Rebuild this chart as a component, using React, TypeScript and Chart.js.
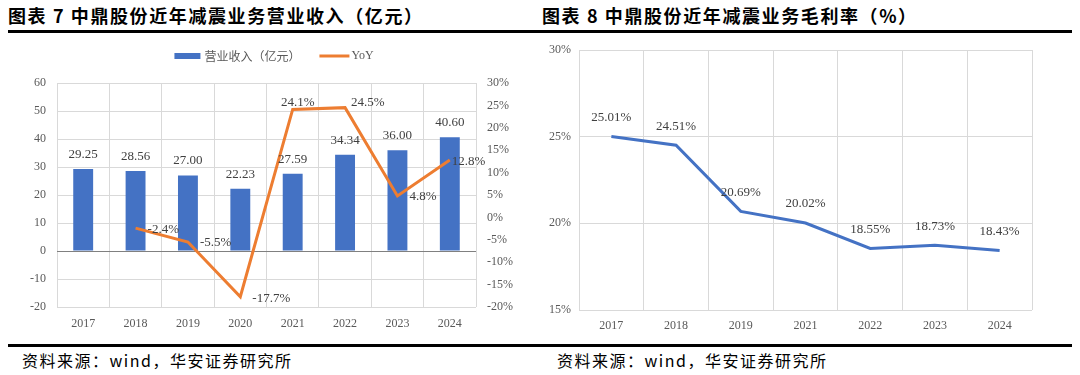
import React, { useEffect, useRef } from 'react';
import { Chart, registerables } from 'chart.js';

Chart.register(...registerables);

// ---- Data: Figure 7 (revenue + YoY) ----
const revenueYears = ['2017', '2018', '2019', '2020', '2021', '2022', '2023', '2024'];
const revenueValues = [29.25, 28.56, 27.0, 22.23, 27.59, 34.34, 36.0, 40.6];
const revenueYoY = [null, -2.4, -5.5, -17.7, 24.1, 24.5, 4.8, 12.8];
const revenueAxis = { min: -20, max: 60, step: 10 };
const yoyAxis = { min: -20, max: 30, step: 5 };
const revenueLabel = '营业收入（亿元）';
const yoyLabel = 'YoY';

// ---- Data: Figure 8 (gross margin) ----
const marginYears = ['2017', '2018', '2019', '2021', '2022', '2023', '2024'];
const marginValues = [25.01, 24.51, 20.69, 20.02, 18.55, 18.73, 18.43];
const marginAxis = { min: 15, max: 30, step: 5 };

// ---- Styles ----
const BLUE = '#4472C4';
const ORANGE = '#ED7D31';
const GRID = '#d9d9d9';
const TICK = '#595959';
const LABEL = '#404040';
const CLEAR = 'rgba(0,0,0,0)';
const SERIF = '"Liberation Serif", "DejaVu Serif", serif';
const CJK = '"Noto Sans CJK SC", "Noto Sans", sans-serif';

// placement of YoY labels relative to their point
const yoyPlacement: Record<number, { align: CanvasTextAlign; dx: number; dy: number }> = {
  1: { align: 'left', dx: 12, dy: 1 },
  2: { align: 'left', dx: 12, dy: 1 },
  3: { align: 'left', dx: 12, dy: 2 },
  4: { align: 'center', dx: 5, dy: -7 },
  5: { align: 'left', dx: 6, dy: -5 },
  6: { align: 'left', dx: 12, dy: 1 },
  7: { align: 'left', dx: 2, dy: 2 },
};

function makeLabelPlugin(
  specs: Record<number, { format: (v: number) => string; place: (i: number) => { align: CanvasTextAlign; dx: number; dy: number } }>
) {
  return {
    id: 'valueLabels',
    afterDatasetsDraw(chart: any) {
      const ctx = chart.ctx as CanvasRenderingContext2D;
      chart.data.datasets.forEach((ds: any, di: number) => {
        const spec = specs[di];
        if (!spec) return;
        const meta = chart.getDatasetMeta(di);
        meta.data.forEach((el: any, i: number) => {
          const v = ds.data[i];
          if (v === null || v === undefined) return;
          const p = spec.place(i);
          ctx.save();
          ctx.font = `13px ${SERIF}`;
          ctx.fillStyle = LABEL;
          ctx.textAlign = p.align;
          ctx.textBaseline = 'middle';
          ctx.fillText(spec.format(v), el.x + p.dx, el.y + p.dy);
          ctx.restore();
        });
      });
    },
  };
}

const legendPlugin = {
  id: 'topLegend',
  afterDraw(chart: any) {
    const ctx = chart.ctx as CanvasRenderingContext2D;
    const ds = chart.data.datasets;
    const y = 16;
    ctx.save();
    ctx.textBaseline = 'middle';
    ctx.font = `12px ${CJK}`;
    const w0 = ctx.measureText(ds[0].label).width;
    ctx.font = `12px ${SERIF}`;
    const w1 = ctx.measureText(ds[1].label).width;
    const total = 26 + 4 + w0 + 19 + 30 + 2 + w1;
    let x = chart.width / 2 - total / 2;
    ctx.fillStyle = ds[0].backgroundColor;
    ctx.fillRect(x, y - 3, 26, 6);
    x += 30;
    ctx.fillStyle = TICK;
    ctx.font = `12px ${CJK}`;
    ctx.textAlign = 'left';
    ctx.fillText(ds[0].label, x, y);
    x += w0 + 19;
    ctx.strokeStyle = ds[1].borderColor;
    ctx.lineWidth = 3;
    ctx.beginPath();
    ctx.moveTo(x, y);
    ctx.lineTo(x + 30, y);
    ctx.stroke();
    x += 32;
    ctx.font = `12px ${SERIF}`;
    ctx.fillText(ds[1].label, x, y);
    ctx.restore();
  },
};

const tickFont = { family: SERIF, size: 12 };

function RevenueChart() {
  const ref = useRef<HTMLCanvasElement>(null);
  useEffect(() => {
    if (!ref.current) return;
    const chart = new Chart(ref.current, {
      type: 'bar',
      data: {
        labels: revenueYears,
        datasets: [
          {
            type: 'bar',
            label: revenueLabel,
            data: revenueValues,
            backgroundColor: BLUE,
            barPercentage: 0.38,
            categoryPercentage: 1,
            yAxisID: 'y',
            order: 1,
          },
          {
            type: 'line',
            label: yoyLabel,
            data: revenueYoY as any,
            borderColor: ORANGE,
            backgroundColor: ORANGE,
            borderWidth: 3,
            pointRadius: 0,
            tension: 0,
            yAxisID: 'y1',
            order: 0,
          },
        ],
      },
      options: {
        responsive: false,
        animation: false,
        devicePixelRatio: 1,
        layout: { padding: { top: 43, left: 0, right: 0, bottom: 0 } },
        plugins: { legend: { display: false }, tooltip: { enabled: false } },
        scales: {
          x: {
            grid: { color: GRID, drawTicks: false, offset: true },
            border: { display: false },
            ticks: { color: TICK, font: tickFont, padding: 10 },
            afterFit: (s: any) => { s.height = 33; },
          },
          y: {
            position: 'left',
            min: revenueAxis.min,
            max: revenueAxis.max,
            ticks: { stepSize: revenueAxis.step, color: TICK, font: tickFont, padding: 0 },
            grid: {
              color: (c: any) => (c.tick && c.tick.value === 0 ? '#808080' : GRID),
              drawTicks: true,
              tickLength: 11,
              tickColor: CLEAR,
            },
            border: { display: false },
            afterFit: (s: any) => { s.width = 49; },
          },
          y1: {
            position: 'right',
            min: yoyAxis.min,
            max: yoyAxis.max,
            ticks: {
              stepSize: yoyAxis.step,
              color: TICK,
              font: tickFont,
              padding: 0,
              callback: (v: any) => `${v}%`,
            },
            grid: { drawOnChartArea: false, drawTicks: true, tickLength: 11, tickColor: CLEAR },
            border: { display: false },
            afterFit: (s: any) => { s.width = 64; },
          },
        },
      },
      plugins: [
        makeLabelPlugin({
          0: { format: (v) => v.toFixed(2), place: () => ({ align: 'center', dx: 0, dy: -14.5 }) },
          1: { format: (v) => `${v.toFixed(1)}%`, place: (i) => yoyPlacement[i] || { align: 'left', dx: 10, dy: 0 } },
        }),
        legendPlugin,
      ],
    } as any);
    return () => chart.destroy();
  }, []);
  return <canvas ref={ref} width={532} height={300} style={{ width: 532, height: 300, display: 'block' }} />;
}

function MarginChart() {
  const ref = useRef<HTMLCanvasElement>(null);
  useEffect(() => {
    if (!ref.current) return;
    const chart = new Chart(ref.current, {
      type: 'line',
      data: {
        labels: marginYears,
        datasets: [
          {
            label: '毛利率',
            data: marginValues,
            borderColor: BLUE,
            backgroundColor: BLUE,
            borderWidth: 3,
            pointRadius: 0,
            tension: 0,
          },
        ],
      },
      options: {
        responsive: false,
        animation: false,
        devicePixelRatio: 1,
        layout: { padding: { top: 10, left: 0, right: 40, bottom: 0 } },
        plugins: { legend: { display: false }, tooltip: { enabled: false } },
        scales: {
          x: {
            offset: true,
            grid: { color: GRID, drawTicks: false, offset: true },
            border: { display: false },
            ticks: { color: TICK, font: tickFont, padding: 9 },
            afterFit: (s: any) => { s.height = 30; },
          },
          y: {
            min: marginAxis.min,
            max: marginAxis.max,
            ticks: {
              stepSize: marginAxis.step,
              color: TICK,
              font: tickFont,
              padding: 0,
              callback: (v: any) => `${v}%`,
            },
            grid: { color: GRID, drawTicks: true, tickLength: 8, tickColor: CLEAR },
            border: { display: false },
            afterFit: (s: any) => { s.width = 39; },
          },
        },
      },
      plugins: [
        makeLabelPlugin({
          0: { format: (v) => `${v.toFixed(2)}%`, place: () => ({ align: 'center', dx: 0, dy: -19 }) },
        }),
      ],
    } as any);
    return () => chart.destroy();
  }, []);
  return <canvas ref={ref} width={532} height={300} style={{ width: 532, height: 300, display: 'block' }} />;
}

const titleStyle: React.CSSProperties = {
  position: 'absolute',
  top: 4,
  fontSize: 18,
  fontWeight: 700,
  letterSpacing: 1.6,
  lineHeight: '22px',
  color: '#000',
  whiteSpace: 'nowrap',
  fontFamily: CJK,
};

const footStyle: React.CSSProperties = {
  position: 'absolute',
  top: 350,
  fontSize: 16,
  letterSpacing: 1.5,
  lineHeight: '20px',
  color: '#000',
  whiteSpace: 'nowrap',
  fontFamily: CJK,
};

export default function App() {
  return (
    <div
      style={{
        position: 'fixed',
        left: 0,
        top: 0,
        width: 1080,
        height: 375,
        background: '#fff',
        overflow: 'hidden',
      }}
    >
      <div style={{ ...titleStyle, left: 8 }}>图表 7 中鼎股份近年减震业务营业收入（亿元）</div>
      <div style={{ ...titleStyle, left: 542 }}>图表 8 中鼎股份近年减震业务毛利率（%）</div>
      <div style={{ position: 'absolute', left: 8, top: 30, width: 1064, height: 2.5, background: '#000' }} />
      <div style={{ position: 'absolute', left: 8, top: 40 }}>
        <RevenueChart />
      </div>
      <div style={{ position: 'absolute', left: 540, top: 40 }}>
        <MarginChart />
      </div>
      <div style={{ position: 'absolute', left: 8, top: 344, width: 1064, height: 2.5, background: '#000' }} />
      <div style={{ ...footStyle, left: 22 }}>资料来源：wind，华安证券研究所</div>
      <div style={{ ...footStyle, left: 557 }}>资料来源：wind，华安证券研究所</div>
    </div>
  );
}
